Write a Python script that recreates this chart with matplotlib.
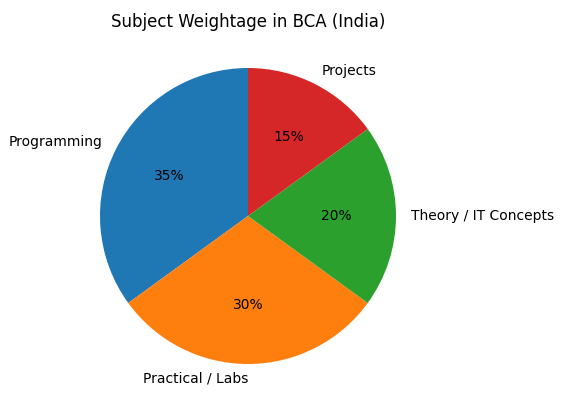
import matplotlib
matplotlib.use("Agg")
import matplotlib.pyplot as plt

subjects = ["Programming", "Practical / Labs", "Theory / IT Concepts", "Projects"]
weights = [35, 30, 20, 15]

fig = plt.figure(figsize=(5.64, 4.11), dpi=100)
ax = fig.add_axes([63 / 564, 10 / 411, 370 / 564, 370 / 411])
wedges, texts, autotexts = ax.pie(weights, labels=subjects, autopct="%1.0f%%", startangle=90)
texts[1].set_ha("right")
ax.set_title("Subject Weightage in BCA (India)", pad=3)
plt.savefig("out.png", dpi=100)
